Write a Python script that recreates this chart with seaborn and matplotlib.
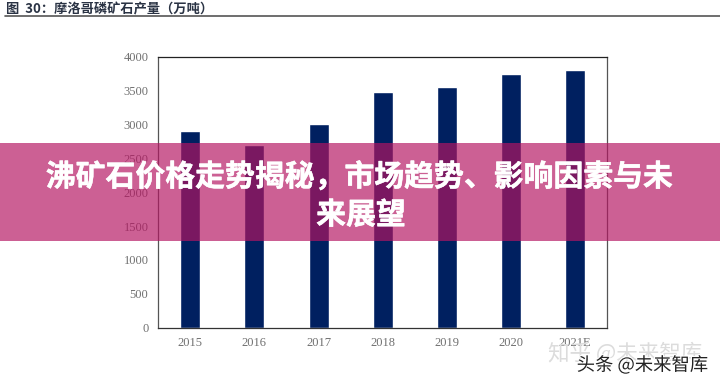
import matplotlib
matplotlib.use("Agg")
import matplotlib.pyplot as plt
import matplotlib.patheffects as pe
from matplotlib.patches import Rectangle
import pandas as pd
import seaborn as sns

years = ["2015", "2016", "2017", "2018", "2019", "2020", "2021E"]
output = [2900, 2690, 3000, 3480, 3550, 3740, 3800]
yticks = [0, 500, 1000, 1500, 2000, 2500, 3000, 3500, 4000]
header = "图  30：摩洛哥磷矿石产量（万吨）"
title_line1 = "沸矿石价格走势揭秘，市场趋势、影响因素与未"
title_line2 = "来展望"
mark_zhihu = "知乎 @未来智库"
mark_toutiao = "头条 @未来智库"

sns.set_theme(style="white")
cjk = ["Noto Sans CJK SC", "DejaVu Sans"]
W, H = 720, 384
fig = plt.figure(figsize=(W / 100, H / 100), dpi=100, facecolor="white")
ax = fig.add_axes([158.2 / W, 1 - 327.7 / H, (607.3 - 158.2) / W, (327.7 - 56.7) / H])

df = pd.DataFrame({"year": years, "output": output})
sns.barplot(data=df, x="year", y="output", color="#002060", saturation=1,
            width=0.3125, ax=ax)
ax.set_xlim(-0.5, 6.5)
ax.set_ylim(0, 4000)
ax.set_yticks(yticks)
ax.set_xlabel("")
ax.set_ylabel("")
ax.tick_params(axis="both", length=0, labelcolor="#707070", labelsize=9)
ax.tick_params(axis="y", pad=7)
ax.tick_params(axis="x", pad=7)
for lab in ax.get_xticklabels() + ax.get_yticklabels():
    lab.set_family("Liberation Serif")
for side, c in {"top": "#222222", "bottom": "#333333", "left": "#555555", "right": "#555555"}.items():
    ax.spines[side].set_visible(True)
    ax.spines[side].set_color(c)
    ax.spines[side].set_linewidth(0.9)

def fx(x):
    return x / W

def fy(y):
    return 1 - y / H

fig.text(fx(6), fy(9), header, family=cjk, fontsize=9.5, fontweight="bold",
         color="#2a3344", va="center", ha="left")
fig.add_artist(plt.Line2D([fx(5), 1], [fy(15.5), fy(15.5)], color="#555555", lw=1.2))

fig.add_artist(Rectangle((0, fy(241)), 1, (241 - 143) / H, transform=fig.transFigure,
                         facecolor="#b51562", alpha=0.68, edgecolor="none", zorder=5))
heavy = [pe.withStroke(linewidth=0.35, foreground="white")]
fig.text(fx(359.5), fy(177), title_line1, family=cjk, fontsize=21.5, fontweight="bold",
         color="white", ha="center", va="center", zorder=6, path_effects=heavy)
fig.text(fx(361), fy(215), title_line2, family=cjk, fontsize=21.5, fontweight="bold",
         color="white", ha="center", va="center", zorder=6, path_effects=heavy)

fig.text(fx(625), fy(353), mark_zhihu, family=cjk, fontsize=15.5, color="#dcdcdc",
         ha="center", va="center", zorder=6)
fig.text(fx(642.5), fy(365), mark_toutiao, family=cjk, fontsize=13.2, color="#222222",
         ha="center", va="center", zorder=7,
         path_effects=[pe.withStroke(linewidth=1.5, foreground="white")])

fig.savefig("out.png", dpi=100)
